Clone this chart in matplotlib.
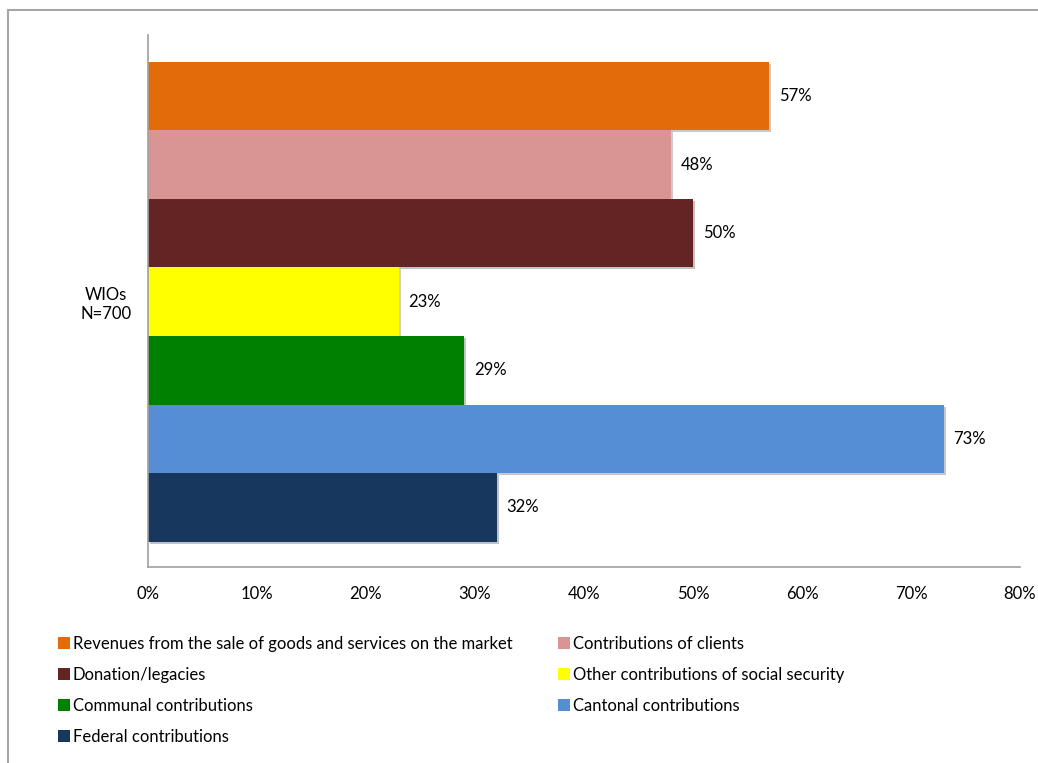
import matplotlib.pyplot as plt
import matplotlib.patheffects as pe
from matplotlib.patches import Rectangle
from matplotlib.ticker import FuncFormatter

plt.rcParams['font.family'] = ['Lato', 'DejaVu Sans']

category = 'WIOs\nN=700'
sources = [
    'Revenues from the sale of goods and services on the market',
    'Contributions of clients',
    'Donation/legacies',
    'Other contributions of social security',
    'Communal contributions',
    'Cantonal contributions',
    'Federal contributions',
]
shares = [57, 48, 50, 23, 29, 73, 32]
colors = ['#E36C0A', '#D99594', '#632523', '#FFFF00', '#008000', '#558ED5', '#17375E']
xticks = [0, 10, 20, 30, 40, 50, 60, 70, 80]

fig = plt.figure(figsize=(10.38, 7.63), dpi=100)
# outer chart frame
fig.patches.append(Rectangle((8 / 1038, -0.1), 1.2, 1 - 10 / 763 + 0.1,
                             transform=fig.transFigure, fill=False,
                             edgecolor='#a6a6a6', linewidth=1.5))

ax = fig.add_axes([148 / 1038, 1 - 567 / 763, 872 / 1038, 532 / 763])

shadow = [pe.SimplePatchShadow(offset=(1.5, -1.5), alpha=0.25), pe.Normal()]
bars = []
for i, (name, val, col) in enumerate(zip(sources, shares, colors)):
    b = ax.barh(i, val, height=1.0, color=col, label=name)
    for p in b:
        p.set_path_effects(shadow)
    ax.bar_label(b, labels=['{}%'.format(val)], padding=7, fontsize=12)
    bars.append(b)

ax.set_ylim(6.5 + 0.37, -0.5 - 0.39)
ax.set_xlim(0, 80)
ax.set_xticks(xticks)
ax.xaxis.set_major_formatter(FuncFormatter(lambda v, p: '{:.0f}%'.format(v)))
ax.set_yticks([3])
ax.set_yticklabels([category], ha='center')
ax.tick_params(axis='y', length=0, pad=30, labelsize=12)
ax.tick_params(axis='x', length=0, pad=14, labelsize=12)

for s in ['top', 'right']:
    ax.spines[s].set_visible(False)
for s in ['left', 'bottom']:
    ax.spines[s].set_color('#a0a0a0')
    ax.spines[s].set_linewidth(1.2)

# legend filled row by row like the original layout
order = [0, 2, 4, 6, 1, 3, 5]
handles = [bars[i] for i in order]
labels = [sources[i] for i in order]
leg = fig.legend(handles, labels, ncol=2, loc='upper left',
                 bbox_to_anchor=(43 / 1038, 1 - 621 / 763), frameon=False,
                 fontsize=12, handlelength=0.7, handleheight=0.7,
                 handletextpad=0.2, labelspacing=0.9, columnspacing=2.75)
for h in leg.legend_handles:
    h.set_path_effects([])

fig.savefig('out.png', dpi=100)
